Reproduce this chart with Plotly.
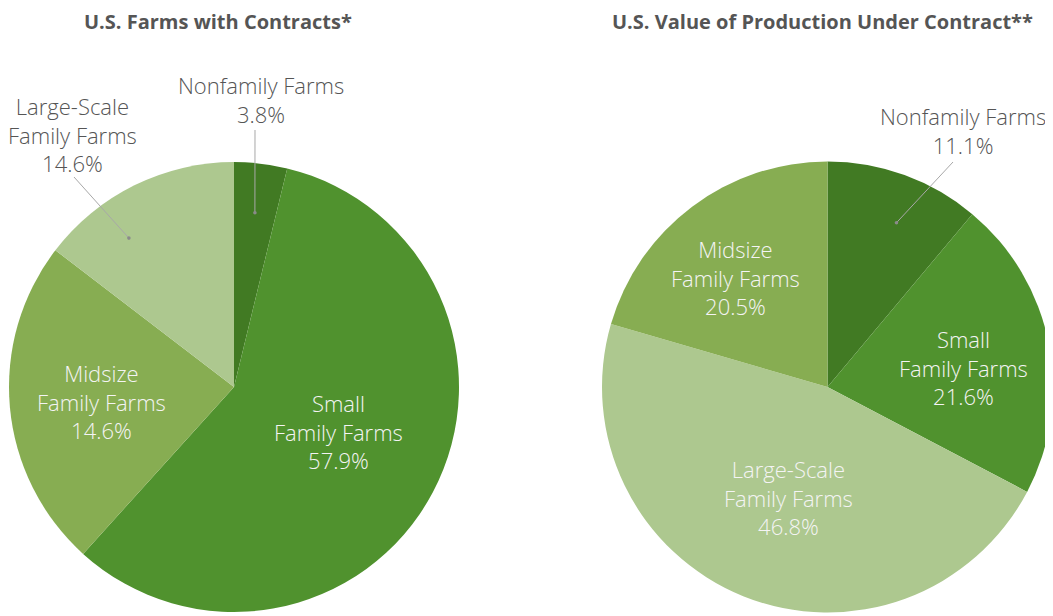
import math
import plotly.graph_objects as go

# ---------------- data ----------------
left_title = "U.S. Farms with Contracts*"
left_categories = ["Nonfamily Farms", "Small<br>Family Farms", "Midsize<br>Family Farms", "Large-Scale<br>Family Farms"]
left_values = [3.8, 57.9, 23.7, 14.6]           # slice sizes as drawn
left_pct_labels = ["3.8%", "57.9%", "14.6%", "14.6%"]  # percentages as printed

right_title = "U.S. Value of Production Under Contract**"
right_categories = ["Nonfamily Farms", "Small<br>Family Farms", "Large-Scale<br>Family Farms", "Midsize<br>Family Farms"]
right_values = [11.1, 21.6, 46.8, 20.5]
right_pct_labels = ["11.1%", "21.6%", "46.8%", "20.5%"]

colors = {
    "Nonfamily Farms": "#417a23",
    "Small<br>Family Farms": "#50922e",
    "Midsize<br>Family Farms": "#87ad52",
    "Large-Scale<br>Family Farms": "#adc88f",
}

FONT = "Open Sans"
TEXT_GRAY = "#555555"
LABEL_SIZE = 22

# ---------------- geometry (pixels in the page) ----------------
OFF = 8                       # page body margin
W, H = 1053 - OFF, 616 - OFF  # figure size
left_center, left_R = (234.0, 387.0), 225.0
right_center, right_R = (827.5, 387.0), 225.5


def px2paper(x, y):
    return (x - OFF) / W, 1 - (y - OFF) / H


def slice_point(values, idx, center, R, rfrac, t=0.5):
    total = sum(values)
    start = sum(values[:idx]) / total * 360
    span = values[idx] / total * 360
    ang = math.radians(start + t * span)
    return center[0] + rfrac * R * math.sin(ang), center[1] - rfrac * R * math.cos(ang)


fig = go.Figure()


def add_pie(cats, vals, center, R):
    x0, y0 = px2paper(center[0] - R, center[1] + R)
    x1, y1 = px2paper(center[0] + R, center[1] - R)
    fig.add_trace(go.Pie(
        labels=[c.replace("<br>", " ") for c in cats], values=vals, sort=False,
        direction="clockwise", rotation=0,
        marker=dict(colors=[colors[c] for c in cats], line=dict(width=0)),
        textinfo="none", hoverinfo="label+percent", showlegend=False,
        domain=dict(x=[max(0, x0), min(1, x1)], y=[max(0, y0), min(1, y1)]),
    ))


add_pie(left_categories, left_values, left_center, left_R)
add_pie(right_categories, right_values, right_center, right_R)

annotations = []
shapes = []


def add_text(x, y, text, color, size=LABEL_SIZE, bold=False, yanchor="middle"):
    px, py = px2paper(x, y)
    annotations.append(dict(
        x=px, y=py, xref="paper", yref="paper", text=text, showarrow=False,
        xanchor="center", yanchor=yanchor, align="center",
        borderpad=0, borderwidth=0,
        font=dict(family=FONT, size=size, color=color, weight=700 if bold else 300),
    ))


# titles
add_text(218, OFF, left_title, TEXT_GRAY, 20, bold=True, yanchor="top")
add_text(822, OFF, right_title, TEXT_GRAY, 20, bold=True, yanchor="top")


# inside labels: (index, radius fraction, position within slice)
def inside_labels(cats, vals, pcts, center, R, specs):
    for idx, rf, t in specs:
        x, y = slice_point(vals, idx, center, R, rf, t)
        add_text(x, y, cats[idx] + "<br>" + pcts[idx], "#f4f4f4")


inside_labels(left_categories, left_values, left_pct_labels, left_center, left_R,
              [(1, 0.504, 0.478), (2, 0.59, 0.49)])
inside_labels(right_categories, right_values, right_pct_labels, right_center, right_R,
              [(1, 0.607, 0.54), (2, 0.522, 0.486), (3, 0.634, 0.454)])


# outside labels with leader lines
def outside_label(cats, vals, pcts, center, R, idx, text_xy, line_start, rf, t):
    add_text(text_xy[0], text_xy[1], cats[idx] + "<br>" + pcts[idx], TEXT_GRAY)
    ex, ey = slice_point(vals, idx, center, R, rf, t)
    sx, sy = line_start
    a0, b0 = px2paper(sx, sy)
    a1, b1 = px2paper(ex, ey)
    shapes.append(dict(type="line", xref="paper", yref="paper", x0=a0, y0=b0, x1=a1, y1=b1,
                       line=dict(color="#a8a8a8", width=1)))
    c0x, c0y = px2paper(ex - 1.8, ey + 1.8)
    c1x, c1y = px2paper(ex + 1.8, ey - 1.8)
    shapes.append(dict(type="circle", xref="paper", yref="paper", x0=c0x, y0=c0y, x1=c1x, y1=c1y,
                       fillcolor="#8a8a8a", line=dict(width=0)))


outside_label(left_categories, left_values, left_pct_labels, left_center, left_R, 0,
              (261, 100), (255, 130), 0.78, 0.5)
outside_label(left_categories, left_values, left_pct_labels, left_center, left_R, 3,
              (72, 134), (74, 177), 0.81, 0.33)
outside_label(right_categories, right_values, right_pct_labels, right_center, right_R, 0,
              (963, 130.5), (953, 162), 0.79, 0.57)

fig.update_layout(
    width=W, height=H,
    margin=dict(l=0, r=0, t=0, b=0),
    paper_bgcolor="white", plot_bgcolor="white",
    annotations=annotations, shapes=shapes,
    font=dict(family=FONT),
)

fig.write_html("out.html")
